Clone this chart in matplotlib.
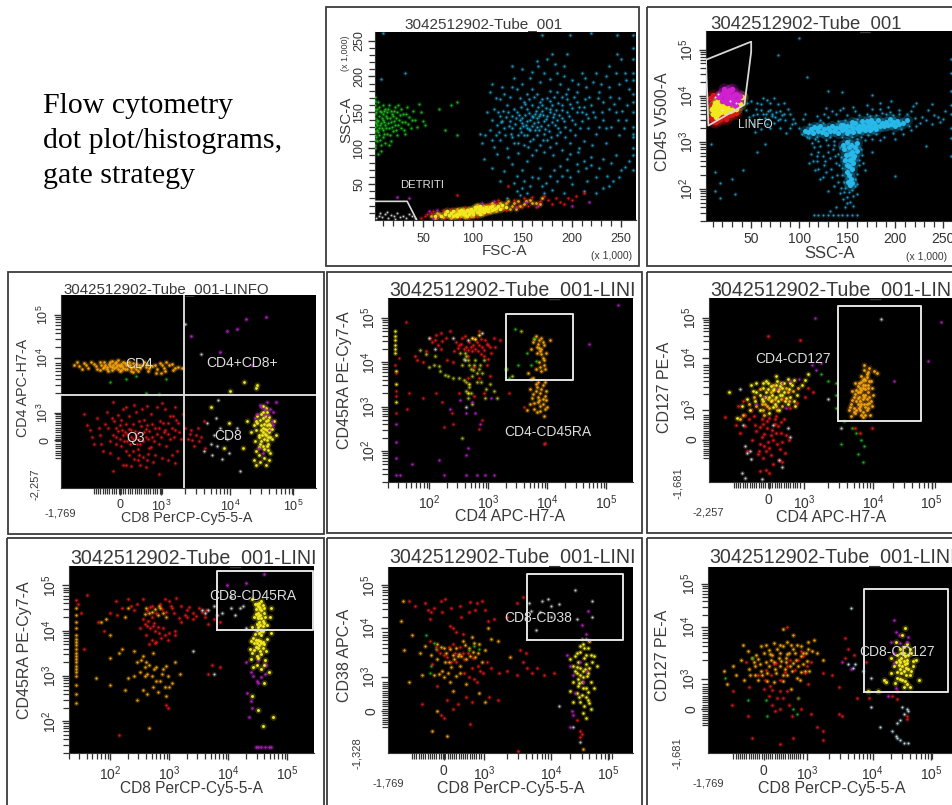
import numpy as np
from matplotlib import pyplot as plt
from matplotlib.patches import Rectangle

W, H = 953, 805
plt.rcParams['font.family'] = ['Liberation Sans', 'DejaVu Sans']
plt.rcParams['mathtext.default'] = 'regular'

RED, ORANGE, YELLOW = '#d81818', '#f0a010', '#f2e81e'
MAG, GREEN, GREY = '#b020c0', '#20b020', '#c8c8c8'
BLUE, CYAN, OLIVE = '#2398c4', '#28b8ea', '#a8b020'

# --- FSC-A / SSC-A, values x 1,000
a_blue = [(163,148),(158,140),(170,152),(150,135),(175,145),(145,150),(165,130),(180,160),(155,155),(168,165),(140,128),(152,118),(172,120),(185,140),(195,150),(205,165),(212,158),(190,172),(178,180),(160,182),(148,170),(135,160),(128,145),(125,132),(133,118),(142,108),(158,110),(168,105),(185,118),(198,125),(210,138),(222,150),(232,165),(245,150),(255,140),(240,130),(225,120),(215,185),(230,190),(245,205),(250,225),(225,205),(200,195),(185,205),(175,225),(180,232),(150,210),(142,198),(130,185),(118,178),(115,150),(118,125),(110,108),(122,102),(135,100),(198,108),
          (160,145),(165,142),(155,138),(168,148),(172,138),(150,142),(148,128),(158,125),(162,135),(176,132),(182,148),(186,128),(192,138),(178,155),(170,160),(160,160),(152,165),(144,142),(138,138),(136,150),(142,155),(130,138),(132,128),(146,118),(155,128),(165,118),(175,112),(190,160),(200,140),(205,150),(215,148),(208,128),(195,168),(185,178),(175,170),(165,175),(155,175),(145,182),(138,172),(128,168),(122,155),(120,140),(127,122),(140,115),(152,105),(178,102),(190,98),(212,110),(232,140),(238,155),(248,170),(256,160),(218,172),(228,178),(205,178),(196,182),(168,192),(158,198),(172,205),(192,215),(210,205),(238,185),(258,182),(248,118),(262,130),(235,108),
          (142,52),(150,45),(160,60),(170,48),(178,62),(185,55),(195,70),(205,78),(215,72),(225,60),(232,85),(242,55),(250,70),(258,82),(145,40),(135,30),(128,55),(120,72),(112,85),(125,92),(140,78),(155,82),(168,72),(180,42),(200,50),(212,40),(225,38),(238,48),(160,90),(150,70),(188,75),(198,92),(220,88),(245,90),(262,120),(262,150),(262,175),(262,205),(262,240),(262,100),(262,90),(262,70),(262,258),(10,260),(198,258),(220,260),(246,258),(170,258),(32,205),(8,197)]
a_blue2 = [(153,146),(157,149),(161,143),(164,152),(167,145),(171,147),(174,141),(178,150),(181,143),(184,153),(148,139),(151,131),(154,133),(157,127),(160,131),(163,125),(166,137),(169,131),(173,127),(177,124),(180,136),(183,132),(187,146),(190,142),(193,130),(197,145),(200,156),(203,134),(147,147),(143,134),(140,145),(137,131),(134,143),(131,152),(129,136),(126,150),(149,157),(153,161),(157,168),(162,171),(166,157),(170,168),(174,156),(178,166),(182,172),(186,163),(190,153),(194,176),(198,162),(202,172),(207,158),(210,150),(214,168),(217,142),(220,160),(224,143),(227,170),(231,150),(235,128),(239,172),(243,162),(247,140),(251,152),(253,128),(149,122),(155,118),(161,113),(167,126),(171,112),(179,116),(184,108),(188,122),(193,116),(203,118),(207,100),(217,128),(221,104),(228,130),(146,108),(139,120),(128,112),(124,118),(120,112),(113,118),(108,120),(156,102),(164,98),(172,95),(181,90),(146,93),(136,88),(195,85),(206,95),(150,190),(160,206),(166,214),(178,196),(188,190),(206,190),(214,198),(222,192),(235,200),(248,190),(254,205),(192,200),(183,218),(140,185),(132,175),(124,170),(120,190),(140,215),(165,222),(195,232),(246,232),(238,214),(255,195),(262,115),(262,165),(262,195),(262,225),(145,62),(152,55),(158,48),(166,58),(174,52),(182,70),(190,62),(198,60),(206,68),(212,82),(220,76),(228,72),(236,62),(240,80),(248,60),(254,74),(132,68),(148,35),(155,38),(172,38),(192,38),(216,55),(232,45)]
a_green = [(2,100),(2,105),(2,112),(2,118),(2,124),(2,130),(2,136),(2,142),(2,148),(2,154),(2,160),(2,166),(2,172),(4,110),(4,125),(4,140),(4,155),(4,132),(6,118),(6,128),(6,145),(6,158),(8,105),(8,135),(8,150),(10,115),(10,125),(10,140),(10,148),(10,160),(12,132),(12,155),(14,120),(14,142),(14,150),(16,128),(16,160),(18,110),(18,136),(18,152),(20,124),(20,145),(22,133),(22,158),(24,118),(24,150),(26,140),(28,128),(28,155),(30,148),(32,120),(32,136),(34,158),(36,144),(38,128),(40,152),(42,140),(46,162),(48,150),(50,138),(52,132),(66,155),(78,160),(84,165),(72,125),(84,118),
           (3,115),(3,135),(3,150),(5,122),(5,138),(5,165),(7,112),(7,132),(7,152),(9,142),(9,128),(11,120),(11,136),(11,152),(13,145),(13,128),(15,135),(15,155),(17,142),(17,118),(19,130),(19,148),(21,138),(21,152),(23,126),(23,142),(25,133),(25,160),(27,146),(29,136),(31,126),(33,148),(35,134),(39,140),(44,130),(12,108),(16,104),(5,92),(8,96)]
a_grey = [(3,3),(6,6),(9,4),(12,8),(15,3),(18,7),(21,5),(24,10),(27,4),(30,6),(33,3),(36,8),(39,5),(42,3),(7,10),(14,11),(22,2)]
a_yellow = [(72,8),(78,10),(82,7),(86,12),(90,9),(94,14),(98,11),(102,15),(106,12),(110,17),(114,14),(118,18),(122,16),(84,9),(88,14),(92,11),(96,8),(100,13),(104,18),(108,14),(112,11),(116,16),(120,20),(126,19),(130,21),(68,6),(74,13),(62,5),(80,5),(94,6),(108,20),(134,18),
            (76,7),(80,12),(84,6),(88,10),(92,7),(96,12),(100,9),(104,11),(108,9),(112,15),(116,12),(120,14),(124,17),(128,15),(98,15),(102,18),(106,16),(110,13),(114,18),(90,13),(86,8)]
a_orange = [(58,6),(64,10),(70,4),(76,6),(82,13),(88,6),(96,15),(100,6),(106,8),(112,20),(118,11),(124,13),(128,24),(134,23),(140,20),(146,26),(152,22),(158,28),(164,24),(170,30),(90,16),(104,21),(120,23),(138,16),
            (66,8),(72,11),(78,3),(84,15),(92,4),(98,6),(110,8),(116,20),(122,21),(130,17),(136,26),(142,23),(148,20),(154,27),(160,24),(168,22),(144,15),(62,3)]
a_red = [(48,3),(54,8),(60,12),(66,9),(72,3),(86,3),(92,18),(104,4),(116,22),(130,16),(142,28),(150,18),(156,20),(160,32),(168,27),(172,34),(180,22),(188,25),(196,30),(204,34),(212,38),(126,28),(84,35),(136,48),
         (52,5),(58,10),(64,4),(70,14),(78,15),(96,3),(114,9),(124,24),(134,14),(146,20),(152,30),(164,18),(176,28),(184,30),(192,22),(200,28)]
a_mag = [(56,12),(60,3),(64,14),(110,24),(122,26),(144,18),(154,25),(166,20),(200,20),(218,25),(24,32),(36,30)]

# --- SSC-A / CD45 V500-A, y in decades
b_cyan = [(106,3.25),(112,3.28),(118,3.3),(124,3.22),(130,3.3),(136,3.25),(142,3.32),(148,3.28),(154,3.36),(160,3.3),(166,3.38),(172,3.34),(178,3.42),(184,3.36),(190,3.44),(196,3.4),(202,3.46),(208,3.42),(114,3.2),(122,3.34),(128,3.18),(134,3.36),(140,3.2),(146,3.38),(152,3.24),(158,3.42),(164,3.28),(170,3.46),(176,3.3),(182,3.48),(188,3.34),(194,3.5),(200,3.36),(212,3.48),
          (109,3.22),(115,3.32),(120,3.25),(126,3.28),(132,3.24),(138,3.3),(144,3.26),(150,3.34),(156,3.3),(162,3.36),(168,3.32),(174,3.4),(180,3.34),(186,3.42),(192,3.38),(198,3.44),(204,3.4),(150,3.2),(156,3.22),(162,3.24),(168,3.26),(174,3.26),(180,3.28),(143,3.38),(155,3.44),(165,3.46),(175,3.48),
          (150,3.0),(152,2.9),(155,2.8),(157,2.7),(153,2.62),(150,2.5),(155,2.42),(152,2.3),(154,2.2),(156,2.55),(149,2.72),(158,2.9),(160,2.98),(147,2.85),(151,2.15),(153,2.08),(154,2.95),(156,2.65),(152,2.48),(150,2.36),(148,2.62),(155,2.12),(153,2.75),(160,2.82),(146,2.95)]
b_blue = [(100,3.3),(96,3.42),(104,3.5),(108,3.12),(116,3.06),(122,3.48),(130,3.55),(138,3.6),(144,3.12),(150,3.58),(158,3.68),(164,3.12),(170,3.62),(176,3.72),(180,3.18),(186,3.64),(192,3.76),(198,3.2),(204,3.7),(212,3.6),(218,3.78),(222,3.36),(228,3.54),(234,3.7),(240,3.58),(246,3.44),(252,3.68),(216,3.26),(208,3.18),(200,3.08),(188,3.12),(176,3.06),(160,3.5),(126,3.62),(110,3.4),(134,3.68),(146,3.74),(170,3.8),(184,3.84),(196,3.88),(222,3.85),(238,3.82),
          (115,2.9),(120,2.8),(125,2.7),(118,2.6),(126,2.5),(130,2.95),(135,2.85),(140,2.75),(132,2.65),(138,2.55),(128,2.35),(134,2.25),(140,2.15),(144,2.45),(146,2.6),(142,2.9),(122,2.2),(116,2.4),(112,2.75),(110,2.55),(148,2.02),(152,1.92),(156,1.85),(146,1.78),(150,1.7),(160,1.88),(158,2.2),(162,2.5),(165,2.72),(168,2.4),(160,2.1),(136,2.05),(130,1.95),(142,1.9),(138,1.6),(132,1.52),
          (50,3.9),(55,3.72),(60,3.82),(65,3.6),(70,3.7),(75,3.55),(80,3.68),(85,3.48),(90,3.6),(58,3.5),(62,3.62),(68,3.5),(72,3.62),(78,3.48),(82,3.58),(66,3.92),(74,3.95),(84,3.85),(92,3.4),(52,3.4),(48,3.55),(45,3.7),(70,3.3),(60,3.28),(80,3.3),(54,3.22),
          (115,1.44),(120,1.44),(125,1.44),(130,1.44),(135,1.44),(140,1.44),(145,1.44),(150,1.44),(155,1.44),(160,1.44),(258,3.6),(258,3.8),(258,4.1),(258,3.3),(258,3.1),(258,2.7),(258,4.5),(258,4.8),
          (100,5.25),(78,4.88),(108,4.4),(130,4.1),(145,4.08),(176,4.02),(12,2.35),(18,2.12),(30,2.2),(42,2.4),(56,2.78),(64,2.96),(8,2.96),(12,1.95),(18,1.8),(33,1.88),(176,2.78),(200,2.28),(232,2.92),
          (103,3.18),(110,3.1),(118,3.12),(125,3.42),(132,3.12),(140,3.46),(148,3.48),(155,3.12),(162,3.58),(172,3.16),(180,3.58),(190,3.6),(198,3.58),(206,3.28),(214,3.36),(220,3.52),(226,3.42),(232,3.48),(238,3.4),(244,3.54),(250,3.5),(216,3.68),(204,3.6),(194,3.66),(184,3.72),(174,3.56),(156,3.76),(142,3.7),(128,3.74),(118,3.56),(106,3.6),(120,3.02),(128,3.04),(136,3.02),(152,3.04),(160,3.06),(168,3.04),(184,3.04),
          (113,2.98),(118,2.7),(122,2.92),(127,2.6),(130,2.8),(133,2.42),(136,2.95),(137,2.7),(141,2.5),(143,2.68),(145,2.3),(147,2.15),(143,2.02),(139,2.3),(125,2.25),(120,2.42),(114,2.6),(162,2.62),(164,2.85),(166,2.55),(158,2.05),(155,1.98),(147,1.92),(150,1.82),(153,1.72),(156,1.62),(148,1.6),(160,2.32),
          (52,3.58),(56,3.62),(60,3.7),(64,3.52),(68,3.68),(72,3.56),(76,3.66),(80,3.5),(84,3.62),(88,3.72),(56,3.85),(62,3.95),(70,3.85),(78,3.82),(46,3.85),(94,3.5),(90,3.3),(86,3.2),(66,3.4),(74,3.42)]
b_mag = [(18,4.0),(22,4.08),(26,4.02),(30,3.96),(34,4.04),(20,3.9),(24,3.94),(28,4.12),(32,3.88),(36,3.92),(38,4.0),(25,3.85),(16,3.98),(30,4.15),(22,4.15),(34,3.78),(28,3.84),(20,4.05),(24,4.0),(28,3.98),(32,4.02),(26,4.1)]
b_yellow = [(9,3.72),(12,3.68),(14,3.75),(16,3.62),(18,3.7),(12,3.85),(15,3.9),(10,3.62),(20,3.78),(23,3.66),(17,3.82),(26,3.72),(13,3.55),(30,3.7),(34,3.72),(38,3.82),(40,3.98),(11,3.78),(15,3.7),(19,3.66),(22,3.74),(25,3.78),(28,3.68)]
b_red = [(8,3.52),(10,3.46),(12,3.44),(15,3.52),(18,3.5),(22,3.54),(26,3.58),(30,3.6),(34,3.64),(8,3.8),(7,3.95),(10,4.02),(13,3.48),(20,3.58),(24,3.5),(28,3.64)]
b_grey = [(12,3.98),(16,4.05),(28,3.9),(34,3.84),(20,3.7)]

# --- CD8 PerCP-Cy5-5-A / CD4 APC-H7-A
c_orange = [(1.6,3.92),(1.68,3.88),(1.75,3.96),(1.82,3.85),(1.9,3.94),(1.96,3.82),(2.02,3.9),(2.06,3.98),(2.1,3.86),(2.14,3.93),(2.18,4.0),(2.22,3.84),(2.26,3.92),(2.3,3.78),(2.34,3.88),(2.38,3.96),(2.42,3.82),(2.46,3.9),(2.5,3.76),(2.56,3.94),(2.62,3.84),(2.68,3.98),(2.74,3.78),(2.8,3.88),(2.86,3.74),(2.92,3.96),(2.98,3.84),(3.06,3.9),(3.12,3.8),(3.2,3.86),(2.0,3.8),(2.12,3.78),(2.2,3.92),(2.28,4.02),(2.36,3.84),(2.44,3.98),(2.52,3.86),(2.6,3.9),(2.7,3.86),(2.84,3.92),(2.94,3.74),(3.02,3.98),(1.72,3.82),(1.86,3.98),(2.04,3.84),(2.16,3.88),(2.24,3.86),(2.32,3.94),(2.4,3.9),(2.48,3.84),(3.26,3.84),
            (1.64,3.98),(1.78,3.9),(1.94,3.88),(2.08,3.92),(2.11,3.82),(2.15,3.98),(2.19,3.86),(2.23,3.96),(2.27,3.82),(2.31,3.88),(2.35,3.98),(2.39,3.82),(2.43,3.92),(2.47,3.78),(2.51,3.96),(2.55,3.82),(2.59,3.78),(2.64,3.92),(2.72,3.94),(2.76,3.84),(2.88,3.82),(2.96,3.9),(3.0,3.78),(3.1,3.94),(3.16,3.84),(2.33,3.8),(2.29,3.9),(2.25,3.98),(2.18,3.8),(2.06,3.86),(2.0,3.98)]
c_red = [(1.75,2.85),(1.85,2.5),(1.9,2.2),(1.95,2.75),(2.0,2.4),(2.05,2.05),(2.1,2.9),(2.12,2.55),(2.15,2.25),(2.2,3.1),(2.22,2.7),(2.25,2.35),(2.28,1.9),(2.3,2.6),(2.32,2.15),(2.35,2.95),(2.38,2.45),(2.4,1.75),(2.42,2.25),(2.45,2.8),(2.48,2.5),(2.5,2.05),(2.52,3.05),(2.55,2.35),(2.58,1.85),(2.6,2.7),(2.62,2.2),(2.65,2.95),(2.68,2.45),(2.7,1.7),(2.72,2.6),(2.75,2.1),(2.78,2.85),(2.8,2.35),(2.82,1.8),(2.85,2.55),(2.88,3.0),(2.9,2.2),(2.92,2.7),(2.95,1.9),(2.98,2.45),(3.0,2.95),(3.02,2.15),(3.05,2.65),(3.08,2.3),(3.1,1.95),(3.12,2.8),(3.15,2.5),(3.18,2.05),(3.2,2.65),(3.25,2.3),(3.28,2.85),(3.35,2.3),(3.4,2.5),(3.45,2.15),(3.5,2.55),(3.55,2.35),(3.6,2.7),(3.62,2.1),(2.36,2.38),(2.42,2.42),(2.5,2.3),(2.56,2.4),(2.34,2.5),(2.46,2.2),(2.66,2.25),(2.6,2.45),(2.7,2.35),(2.3,2.3),(2.25,2.55),(2.2,2.4),(2.6,1.95),(2.66,1.92),(2.52,1.88),(2.44,1.95),(2.74,1.98),(2.85,1.95),(2.35,1.75),(2.2,1.6),(2.9,1.55),
         (1.8,2.6),(1.88,2.35),(1.98,2.55),(2.02,2.2),(2.08,2.62),(2.18,2.75),(2.24,2.2),(2.27,2.48),(2.33,2.72),(2.37,2.25),(2.4,2.62),(2.44,2.52),(2.47,2.35),(2.5,2.62),(2.53,2.48),(2.57,2.2),(2.6,2.3),(2.63,2.58),(2.67,2.72),(2.7,2.52),(2.73,2.3),(2.76,2.48),(2.8,2.62),(2.83,2.25),(2.87,2.42),(2.9,2.55),(2.93,2.35),(2.97,2.65),(3.0,2.5),(3.04,2.42),(3.07,2.8),(3.1,2.55),(3.13,2.35),(3.17,2.72),(3.22,2.45),(3.3,2.55),(3.38,2.42),(3.42,2.28),(3.48,2.4),(3.52,2.25),(2.28,2.82),(2.4,3.0),(2.55,2.9),(2.72,3.02),(2.95,3.08),(3.15,3.0),(2.15,2.0),(2.4,2.05),(2.58,2.08),(2.78,2.12),(3.05,1.85),(3.15,1.78),(2.62,1.75),(2.72,1.85),(2.48,1.72)]
c_yellow = [(4.45,2.4),(4.5,2.55),(4.55,2.7),(4.6,2.45),(4.52,2.3),(4.48,2.85),(4.58,2.2),(4.56,2.9),(4.62,2.6),(4.5,2.15),(4.42,2.65),(4.54,2.42),(4.6,2.78),(4.46,2.2),(4.65,2.3),(4.4,2.5),(4.38,2.25),(4.52,2.62),(4.56,2.5),(4.58,2.35),(4.5,2.75),(4.48,2.5),(4.56,2.15),(4.36,1.85),(4.4,1.75),(4.46,1.8),(4.55,1.75),(4.6,1.85),(4.62,2.0),(4.4,2.05),(4.45,1.95),(4.52,1.9),(4.7,2.4),(4.68,2.7),(4.32,2.45),(4.26,2.7),(4.2,2.1),(4.55,2.98),(4.5,3.02),(3.98,2.65),(3.9,2.1),(4.42,3.48),(4.4,3.42),(4.22,3.55),(4.0,3.35),(3.7,3.0),
            (4.47,2.6),(4.51,2.45),(4.53,2.52),(4.55,2.38),(4.57,2.6),(4.59,2.52),(4.49,2.38),(4.46,2.72),(4.54,2.8),(4.58,2.72),(4.44,2.35),(4.5,2.9),(4.62,2.35),(4.6,2.62),(4.42,2.8),(4.64,2.52),(4.36,2.6),(4.4,2.7),(4.56,2.28),(4.48,2.25),(4.52,2.08),(4.44,2.12),(4.58,2.06)]
c_mag = [(4.48,3.0),(4.56,3.1),(4.62,2.95),(4.52,2.82),(4.64,2.7),(4.42,2.85),(4.7,3.1),(4.6,2.5),(4.5,2.0),(4.44,2.1),(4.66,2.9),(4.25,4.9),(4.55,4.95),(3.95,4.65),(4.1,4.7),(4.33,3.92),(3.85,4.2),(3.4,4.55),(4.46,3.05),(4.54,2.95),(4.58,2.82),(4.66,2.6),(4.38,2.75)]
c_grey = [(3.65,2.65),(3.75,2.4),(3.8,2.15),(3.85,2.55),(3.95,2.3),(3.7,2.2),(3.72,1.95),(3.78,2.75),(3.6,2.05),(3.98,2.0),(3.88,1.88),(4.1,2.55),(4.15,1.6),(3.82,3.15),(3.3,4.8),(3.55,4.15)]
c_green = [(2.15,3.55),(2.7,3.3),(2.4,3.6),(2.55,3.68),(3.02,3.6),(2.9,3.28)]

# --- CD4 APC-H7-A / CD45RA PE-Cy7-A
d_mix = [(1.75,4.15),(1.8,4.05),(1.9,4.0),(1.95,4.25),(2.05,4.45),(2.1,4.5),(2.15,4.4),(2.2,4.65),(2.28,4.55),(2.35,4.7),(2.42,4.25),(2.5,4.4),(2.55,4.55),(2.6,4.6),(2.65,4.15),(2.7,4.35),(2.75,4.55),(2.8,4.45),(2.85,4.7),(2.9,4.35),(2.95,4.5),(3.0,4.4),(3.05,4.2),(3.1,4.55),(3.2,4.5),(2.45,4.45),(2.62,4.35),(2.72,4.25),(2.82,4.25),(2.92,4.15),(2.98,3.95),(3.02,3.7),(2.2,4.3),(2.3,4.05),(2.4,4.0),(2.58,4.3),
         (2.68,4.45),(2.74,4.38),(2.78,4.3),(2.84,4.4),(2.88,4.52),(2.93,4.28),(2.97,4.42),(3.03,4.35),(2.66,4.28),(2.54,4.42),(2.48,4.32),(2.22,4.48),(2.12,4.62),(2.02,4.55),(2.88,4.18),(3.0,4.08),(2.76,3.9),(2.85,3.65),(2.92,3.3),(2.75,3.25),(2.66,3.65),(3.12,4.35)]
d_olive = [(1.85,4.28),(1.95,4.18),(2.0,3.9),(2.1,4.15),(2.18,3.8),(2.26,3.72),(2.32,3.7),(2.4,3.65),(2.5,3.65),(2.58,3.6),(2.62,3.35),(2.68,3.45),(2.72,3.7),(2.8,3.55),(2.88,3.55),(2.96,3.4),(3.02,3.5),(2.75,3.95),(2.65,4.05),(2.6,4.2),(2.85,3.85),(2.78,4.05),(2.7,3.85),(2.55,3.95),(2.92,4.05),(2.65,3.2),(3.15,3.2),(2.55,2.3),(3.3,3.85),(3.4,3.7),(3.55,4.7),
           (2.62,4.15),(2.68,3.95),(2.74,3.82),(2.8,3.75),(2.86,3.95),(2.9,3.75),(2.7,3.3),(2.72,3.05),(2.62,3.55),(2.08,3.95),(2.16,3.92),(2.95,3.2),(3.1,3.35),(2.52,4.2),(2.58,4.08)]
d_yellow = [(2.72,4.55),(2.78,4.52),(2.68,3.5),(2.66,3.3),(1.42,4.7),(1.42,4.6),(1.42,4.5),(1.42,4.4),(1.42,4.3),(1.42,4.22),(1.44,3.8),(1.44,3.5),(1.44,3.1),(2.85,4.62)]
d_orange = [(3.8,4.6),(3.85,4.5),(3.75,4.45),(3.9,4.55),(3.95,4.4),(3.82,4.35),(3.88,4.25),(3.92,4.1),(3.86,4.0),(3.94,3.95),(3.8,3.85),(3.9,3.8),(3.98,4.2),(3.72,4.3),(3.68,3.75),(3.76,3.65),(3.84,3.55),(3.92,3.48),(3.8,3.35),(3.88,3.3),(3.96,3.25),(3.74,3.2),(3.7,3.05),(3.84,3.1),(3.92,3.05),(3.98,3.15),(3.78,2.95),(3.88,2.9),(4.0,3.0),(3.66,2.92),(3.94,2.78),(3.8,3.5),(3.86,3.15),(3.9,4.3),(4.04,4.5),(3.7,3.4),(3.82,4.2),
            (3.78,4.52),(3.84,4.42),(3.92,4.45),(3.86,4.32),(3.9,4.18),(3.94,4.05),(3.88,3.9),(3.96,3.85),(3.72,3.62),(3.82,3.45),(3.9,3.4),(3.96,3.55),(3.84,3.22),(3.92,3.18),(3.78,3.08),(3.88,3.02),(3.96,2.95),(3.82,2.88),(3.76,3.28),(3.98,3.35)]
d_red = [(1.42,3.95),(1.44,3.75),(1.44,3.35),(1.44,3.25),(1.44,2.85),(1.48,4.1),(1.6,4.9),(1.66,3.3),(1.9,3.2),(2.12,3.3),(2.5,3.3),(2.4,2.6),(2.25,2.55),(2.38,2.85),(3.6,3.0),(3.96,2.18),(3.94,2.15),(2.22,3.1),(2.85,2.5),(2.9,2.7),(1.62,2.95),(3.35,3.3)]
d_mag = [(2.35,2.95),(2.52,3.15),(2.62,2.85),(2.72,3.1),(2.78,2.85),(2.86,2.6),(3.05,3.2),(1.44,2.6),(1.44,2.2),(1.44,1.85),(2.65,2.07),(2.62,1.9),(5.2,5.3),(4.7,4.42),(1.44,1.45),(1.5,1.45),(2.25,1.45),(2.62,1.45),(2.8,1.45),(2.95,1.45),(3.1,1.45),(2.16,1.8),(1.7,1.7)]
d_green = [(3.45,4.75),(3.3,3.85),(3.35,3.65),(3.5,3.95),(3.65,4.2),(3.78,4.55),(3.8,4.02),(3.72,3.95)]
d_grey = [(2.0,4.55),(2.1,4.3),(2.4,4.55),(2.65,4.5),(2.9,4.65),(2.6,4.05),(2.62,3.0)]

# --- CD4 APC-H7-A / CD127 PE-A
e_orange = [(3.62,2.95),(3.66,3.1),(3.7,3.25),(3.74,3.4),(3.78,3.55),(3.82,3.7),(3.86,3.85),(3.9,3.75),(3.94,3.6),(3.98,3.45),(4.0,3.3),(3.96,3.15),(3.92,3.0),(3.88,2.85),(3.84,2.8),(3.8,2.95),(3.76,3.1),(3.72,2.88),(3.68,3.38),(3.8,3.35),(3.84,3.2),(3.88,3.5),(3.92,3.35),(3.86,3.1),(3.8,3.05),(3.74,2.95),(3.9,3.2),(3.84,3.45),(3.78,3.25),(3.82,3.58),(3.86,3.65),(3.92,3.8),(3.72,3.55),(3.66,2.82),(3.96,3.6),(4.02,3.82),(4.06,3.78),(3.94,3.88),(3.86,3.95),(3.82,3.4),(3.88,3.3),(3.76,3.48),(3.9,2.95),(3.7,3.0),(3.85,2.92),(3.95,2.85),
            (3.64,3.02),(3.68,3.18),(3.72,3.32),(3.76,3.22),(3.8,3.15),(3.84,3.3),(3.88,3.42),(3.92,3.52),(3.94,3.25),(3.9,3.1),(3.86,3.25),(3.82,3.1),(3.78,3.0),(3.74,3.15),(3.7,2.92),(3.84,3.52),(3.88,3.62),(3.9,3.68),(3.84,3.62),(3.8,3.45),(3.76,3.35),(3.94,3.12),(3.98,3.05),(3.82,2.85),(3.88,3.02),(3.92,3.45)]
e_yellow = [(2.3,3.45),(2.38,3.55),(2.45,3.4),(2.52,3.6),(2.6,3.45),(2.68,3.65),(2.75,3.5),(2.82,3.3),(2.4,3.25),(2.48,3.1),(2.56,3.3),(2.64,3.15),(2.72,3.25),(2.8,3.05),(2.3,3.15),(2.2,3.35),(2.12,3.5),(2.05,3.2),(1.98,3.05),(1.9,2.78),(2.1,2.95),(2.25,2.95),(2.4,2.9),(2.55,2.95),(2.35,3.6),(2.5,3.7),(2.42,3.48),(2.58,3.55),(2.7,3.42),(2.9,3.5),(2.95,3.62),(3.0,3.75),(2.5,3.25),(2.62,3.35),(2.35,3.35),(2.28,3.2),(1.78,3.35),
            (2.44,3.3),(2.47,3.42),(2.5,3.5),(2.53,3.38),(2.56,3.48),(2.6,3.28),(2.63,3.55),(2.66,3.22),(2.42,3.15),(2.38,3.42),(2.34,3.25),(2.46,3.02),(2.54,3.15),(2.72,3.55),(2.78,3.15),(2.68,3.08),(2.25,3.28),(2.18,3.15),(2.15,3.38),(2.2,3.55),(2.3,3.55),(2.78,3.62)]
e_orange2 = [(2.2,3.05),(2.3,2.95),(2.36,3.05),(2.44,3.18),(2.52,2.95),(2.6,3.05),(2.68,3.35),(2.76,3.38),(2.84,3.45),(2.16,3.25),(2.08,3.1),(2.26,3.42),(2.46,3.52),(2.55,3.42),(2.38,3.2),(1.95,2.75),(2.0,2.85),(2.34,3.1),(2.42,3.35),(2.48,3.2),(2.58,3.2),(2.66,3.45),(2.28,3.08),(2.32,2.85),(2.4,3.0),(2.5,3.05),(2.7,3.15)]
e_red = [(1.72,2.8),(1.88,2.62),(1.95,2.45),(2.02,2.6),(2.08,2.75),(2.14,2.3),(2.2,2.5),(2.25,2.2),(2.3,2.65),(2.35,2.05),(2.42,2.4),(2.48,2.65),(2.52,2.2),(2.58,2.45),(2.64,2.0),(2.7,2.3),(2.22,1.98),(2.3,1.9),(2.38,2.25),(2.45,1.75),(2.55,1.85),(2.35,1.62),(2.25,1.6),(2.05,2.05),(2.12,2.95),(2.4,2.78),(2.5,2.82),(2.62,2.75),(2.72,3.0),(2.95,3.25),(3.0,3.45),(3.08,3.35),(2.38,4.6),(2.88,4.5),(2.4,1.55),(3.72,2.55),(3.8,2.45),(3.98,2.55),(2.28,2.35),(2.6,1.8),
         (2.18,2.62),(2.26,2.58),(2.32,2.42),(2.36,2.55),(2.4,2.12),(2.44,2.52),(2.46,2.3),(2.5,2.45),(2.54,2.6),(2.56,2.1),(2.6,2.25),(2.66,2.4),(2.16,2.82),(2.28,2.75),(2.36,2.72),(2.48,2.75),(2.58,2.68),(2.24,2.05),(2.32,2.15),(2.42,1.95),(2.02,2.85),(2.0,3.15),(1.92,3.05),(2.62,3.2),(2.82,3.12)]
e_mag = [(2.5,3.42),(2.6,3.55),(2.72,3.6),(2.85,3.65),(2.32,3.25),(3.2,4.0),(3.05,3.95),(3.12,3.85),(4.32,3.6),(4.85,4.05),(5.05,4.9),(3.1,5.0),(2.65,3.0),(2.2,3.1)]
e_grey = [(1.95,3.42),(2.0,2.62),(2.02,2.15),(2.05,2.0),(2.1,2.05),(2.12,1.88),(1.98,1.55),(2.02,1.45),(2.28,1.42),(2.55,1.85),(2.6,1.7),(2.68,2.55),(2.72,2.35),(2.45,2.62),(3.5,2.55),(4.12,4.98),(3.3,3.2)]
e_green = [(3.68,2.55),(3.74,2.45),(3.82,2.3),(3.86,2.15),(3.76,1.98),(3.85,1.8),(3.55,2.72),(3.5,2.2),(3.3,3.6),(3.2,3.75),(3.42,3.55),(3.42,3.3),(3.42,3.0)]

# --- CD8 PerCP-Cy5-5-A / CD45RA PE-Cy7-A
f_yellow = [(4.4,4.7),(4.45,4.6),(4.5,4.55),(4.55,4.65),(4.6,4.5),(4.5,4.4),(4.44,4.3),(4.52,4.2),(4.58,4.1),(4.62,4.3),(4.48,4.02),(4.56,3.9),(4.42,3.85),(4.5,3.8),(4.6,3.7),(4.46,3.65),(4.54,3.55),(4.4,3.5),(4.64,3.55),(4.5,3.4),(4.56,4.45),(4.52,4.62),(4.48,4.15),(4.54,4.35),(4.58,4.22),(4.44,3.72),(4.56,3.72),(4.5,3.62),(4.7,4.3),(4.72,3.95),(4.36,3.6),(4.62,3.35),(4.48,3.25),(4.56,3.15),(4.68,3.1),(4.42,3.2),(4.52,4.52),(4.5,4.28),(4.46,4.48),(4.6,4.4),(4.55,4.0),(4.45,3.92),(4.65,3.82),(4.58,3.62),(4.38,3.38),(4.6,2.85),(4.4,2.55),(4.5,2.25),(4.58,1.9),(4.75,2.1),
            (4.48,4.58),(4.54,4.48),(4.58,4.56),(4.46,4.38),(4.5,4.33),(4.56,4.28),(4.6,4.18),(4.54,4.12),(4.5,4.08),(4.58,4.0),(4.52,3.95),(4.46,3.8),(4.54,3.78),(4.48,3.72),(4.58,3.75),(4.52,3.68),(4.44,3.58),(4.56,3.48),(4.48,3.45),(4.6,3.25),(4.66,4.12),(4.72,4.5),(4.4,4.08),(4.38,3.78)]
f_mag = [(4.3,3.3),(4.38,3.1),(4.42,3.0),(4.5,3.35),(4.62,3.05),(4.56,2.98),(4.5,2.85),(4.32,2.62),(4.38,2.45),(4.35,2.1),(4.48,2.9),(4.64,3.25),(4.5,1.44),(4.56,1.44),(4.62,1.44),(4.68,1.44),(4.46,1.44),(4.72,1.44),(4.6,5.25),(4.3,5.05),(4.4,2.3),(3.98,5.0)]
f_red = [(1.6,4.8),(2.0,4.4),(2.1,4.65),(2.3,4.7),(2.45,4.6),(2.55,4.7),(2.62,4.45),(2.7,4.55),(2.78,4.4),(2.85,4.6),(2.92,4.7),(3.0,4.65),(3.05,4.5),(3.12,4.72),(3.2,4.55),(3.3,4.45),(3.4,4.4),(3.5,4.5),(3.6,4.3),(3.66,4.15),(3.75,4.25),(3.85,4.2),(2.55,4.25),(2.62,4.1),(2.7,4.3),(2.76,4.0),(2.82,3.95),(2.9,4.05),(3.0,3.95),(3.1,4.0),(2.6,3.9),(2.7,3.8),(2.72,4.1),(2.5,4.05),(1.9,4.0),(1.8,4.2),(1.5,4.4),(1.45,4.6),(1.42,4.68),(3.2,4.2),(3.3,4.3),(3.4,4.25),(1.55,3.6),(3.65,3.05),(3.85,3.2),(3.72,3.25),(3.02,4.55),(2.88,4.48),(2.95,2.35),(2.97,2.3),(2.15,1.7),(3.1,3.9),(2.75,3.72),
         (2.58,4.15),(2.64,4.22),(2.68,4.05),(2.74,4.18),(2.8,4.08),(2.86,3.85),(2.66,3.7),(2.78,3.75),(2.94,4.42),(3.08,4.4),(3.16,4.28),(3.26,4.35),(3.34,4.52),(3.46,4.32),(3.55,4.42),(3.62,4.45),(2.4,4.45),(2.35,4.55),(2.2,4.5),(2.12,4.35),(2.68,4.52),(2.98,3.8),(2.92,3.9)]
f_orange = [(1.42,3.0),(1.42,3.15),(1.42,3.3),(1.42,3.45),(1.42,3.6),(1.42,3.75),(1.42,3.9),(1.42,4.05),(1.42,4.2),(1.42,4.35),(1.42,4.5),(1.42,2.8),(1.42,2.6),(1.42,2.4),(1.85,4.2),(1.92,4.25),(2.0,3.9),(2.15,3.5),(2.2,3.6),(2.0,3.4),(2.25,4.3),(2.3,4.5),(2.4,3.55),(2.45,3.3),(2.5,3.1),(2.55,3.45),(2.58,3.2),(2.62,3.05),(2.65,4.4),(2.72,3.5),(2.78,3.2),(2.85,2.9),(2.9,3.15),(2.92,2.75),(2.98,3.0),(3.05,2.85),(3.1,3.3),(3.18,3.05),(2.4,3.0),(2.3,2.95),(2.62,2.6),(2.72,2.75),(2.8,2.65),(2.78,2.9),(2.7,3.0),(2.85,4.5),(2.95,4.3),(2.8,4.35),(2.95,2.55),(1.75,2.95),(2.0,2.8),(2.25,2.7),(2.55,2.7),(2.45,2.48),(2.65,1.85),(3.0,2.75),
            (1.42,3.08),(1.42,3.22),(1.42,3.38),(1.42,3.52),(1.42,3.68),(1.42,3.82),(2.52,3.35),(2.6,3.3),(2.66,3.25),(2.74,3.15),(2.88,3.05),(2.94,3.22),(2.58,3.0),(2.7,4.42),(2.76,4.48),(2.58,4.38),(2.6,4.5),(2.82,4.55),(2.9,4.4)]
f_grey = [(3.4,3.55),(3.75,4.55),(3.9,4.4),(4.05,4.75),(4.12,4.35),(4.2,4.5),(3.55,4.45),(3.65,4.45),(3.75,3.05),(4.25,4.55),(4.05,4.5),(3.8,4.35),(4.3,4.05),(3.6,4.4)]

# --- CD8 PerCP-Cy5-5-A / CD38 APC-A
g_red = [(1.75,4.65),(1.85,4.55),(2.0,4.6),(2.05,4.45),(2.15,4.5),(2.25,4.65),(2.32,4.7),(2.42,4.5),(2.55,4.55),(2.58,4.3),(2.7,4.4),(2.82,4.6),(2.9,4.65),(2.95,4.45),(2.1,4.4),(2.4,4.1),(2.45,4.05),(3.0,4.2),(3.1,4.25),(3.3,4.3),(3.45,4.6),(3.55,4.75),(2.08,3.75),(2.12,3.25),(2.2,3.55),(2.35,3.4),(2.45,3.7),(2.5,3.3),(2.6,3.5),(2.7,2.95),(2.75,3.15),(2.82,2.85),(2.88,3.1),(2.98,3.3),(3.05,3.15),(3.18,3.05),(3.3,3.1),(3.45,3.0),(3.55,3.3),(3.62,3.15),(3.7,3.05),(3.78,3.15),(3.88,3.0),(4.05,3.05),(2.2,2.75),(2.35,2.45),(2.45,2.25),(2.52,2.35),(2.65,2.5),(2.75,2.4),(3.02,2.5),(3.15,2.45),(1.95,2.35),(2.25,2.1),(2.3,2.05),(2.72,1.9),(3.48,1.3),(4.46,1.75),(4.48,1.68),(4.45,1.62),(4.4,2.0),(3.5,3.55),(3.6,3.5),
         (2.24,3.5),(2.3,3.45),(2.38,3.62),(2.42,3.3),(2.48,3.5),(2.56,3.62),(2.62,3.35),(2.68,3.5),(2.76,3.38),(2.84,3.2),(2.92,3.05),(2.18,3.62),(2.08,4.25),(2.28,4.4),(2.8,4.45),(2.72,4.62),(2.5,3.95),(2.6,3.92),(2.62,3.05),(2.78,2.92)]
g_orange = [(1.62,4.2),(1.68,3.55),(1.8,3.9),(1.92,3.5),(2.0,3.65),(2.1,3.45),(2.2,3.35),(2.28,3.1),(2.3,3.6),(2.38,3.3),(2.44,3.45),(2.5,3.6),(2.55,3.2),(2.6,3.75),(2.65,3.35),(2.7,3.6),(2.75,3.85),(2.8,3.4),(2.85,3.7),(2.9,3.3),(2.95,3.55),(1.95,3.0),(2.15,3.0),(2.3,2.95),(2.4,2.85),(2.55,3.05),(2.45,2.65),(2.65,2.8),(2.85,2.6),(2.95,2.4),(2.2,2.2),(2.12,1.75),(2.35,1.65),(3.05,3.8),(3.15,3.75),(3.35,3.4),(1.65,4.65),(1.75,2.85),(4.5,1.35),(3.0,4.05),
            (2.2,3.7),(2.26,3.62),(2.34,3.5),(2.4,3.58),(2.46,3.35),(2.54,3.48),(2.58,3.42),(2.64,3.68),(2.72,3.42),(2.78,3.72),(2.84,3.5),(2.32,3.28),(2.42,3.18),(2.52,3.42),(2.22,3.02),(2.36,3.05),(2.5,2.98),(2.76,3.52)]
g_yellow = [(4.3,3.35),(4.35,3.2),(4.4,3.05),(4.45,3.15),(4.5,2.95),(4.55,3.25),(4.6,3.15),(4.65,3.3),(4.4,3.5),(4.45,3.65),(4.5,3.7),(4.55,3.45),(4.58,3.6),(4.35,2.85),(4.42,2.75),(4.48,2.85),(4.55,2.7),(4.62,2.85),(4.4,2.6),(4.46,2.4),(4.52,2.3),(4.58,2.45),(4.62,2.25),(4.35,2.4),(4.48,2.55),(4.56,2.98),(4.42,3.28),(4.52,3.38),(4.6,3.75),(4.3,2.65),(4.72,3.2),(4.5,2.15),(4.55,2.05),(4.42,2.9),(4.5,3.08),(4.58,2.62),(4.68,2.7),
            (4.38,3.42),(4.46,3.52),(4.52,3.6),(4.62,3.45),(4.68,3.42),(4.38,3.1),(4.46,3.0),(4.53,3.14),(4.44,2.82),(4.5,2.72),(4.44,2.5),(4.54,2.52),(4.6,2.38),(4.4,3.18),(4.58,3.05)]
g_mag = [(4.25,3.45),(4.3,3.2),(4.35,3.0),(4.45,3.3),(4.5,2.85),(4.56,3.1),(4.38,2.6),(4.32,2.2),(4.35,2.1),(4.6,3.78),(4.48,4.12),(4.58,4.42),(4.3,1.85),(4.55,3.92)]
g_grey = [(3.65,4.6),(3.85,4.65),(3.95,4.7),(4.0,4.55),(4.12,4.58),(4.38,4.9),(4.65,4.65),(3.68,4.42),(3.82,4.4),(4.0,4.3),(3.75,4.0),(4.4,4.25),(4.65,4.3),(4.48,3.8),(4.55,3.8),(4.35,1.85),(4.45,1.5),(4.12,2.3)]
g_green = [(2.02,3.9),(2.15,3.72),(2.18,3.58),(2.7,3.55),(2.78,3.65),(2.85,3.58),(2.1,3.2),(2.08,3.05)]

# --- CD8 PerCP-Cy5-5-A / CD127 PE-A
h_orange = [(1.6,3.05),(1.65,2.75),(1.75,3.15),(1.8,2.95),(1.88,3.3),(1.92,2.85),(2.0,3.1),(2.05,3.35),(2.1,2.95),(2.12,3.4),(2.18,3.2),(2.25,3.45),(2.3,3.0),(2.36,3.3),(2.42,3.1),(2.48,3.35),(2.55,2.95),(2.6,3.25),(2.65,3.45),(2.7,3.05),(2.76,3.3),(2.82,2.85),(2.88,3.2),(2.92,3.45),(2.98,3.05),(3.02,3.5),(1.9,3.62),(1.98,3.5),(2.2,3.6),(2.32,3.52),(2.45,3.55),(2.55,3.6),(2.62,3.7),(2.72,3.55),(2.85,3.6),(2.95,3.7),(3.1,3.45),(3.2,3.3),(2.22,2.95),(2.4,2.8),(2.5,3.15),(2.68,2.65),(2.78,2.9),(2.72,3.85),(2.55,3.98),(3.05,3.75),(2.6,3.35),(2.38,3.4),(2.1,3.15),(2.32,3.15),(2.02,2.95),(2.5,3.45),(2.75,3.45),
            (2.08,3.25),(2.15,3.32),(2.2,3.05),(2.28,3.25),(2.34,3.42),(2.4,3.25),(2.44,3.0),(2.52,3.28),(2.58,3.1),(2.62,3.42),(2.66,3.15),(2.72,3.22),(2.8,3.15),(2.84,3.38),(2.9,3.05),(2.94,3.28),(2.28,3.62),(2.4,3.68),(2.5,3.62),(2.68,3.62),(2.78,3.62),(2.88,3.45),(2.95,3.55),(2.15,2.85),(2.3,2.82),(2.55,2.82),(2.62,2.95),(2.85,3.02)]
h_red = [(1.75,2.6),(1.72,2.3),(1.95,3.25),(2.0,2.7),(1.98,2.05),(2.15,2.95),(2.25,2.65),(2.35,2.72),(2.38,2.3),(2.42,2.15),(2.45,2.45),(2.5,2.2),(2.55,2.45),(2.62,2.6),(2.65,2.3),(2.7,2.05),(2.8,2.45),(2.85,2.2),(2.9,3.0),(2.95,2.75),(2.62,4.03),(3.0,2.1),(3.2,3.0),(3.35,2.95),(3.45,2.7),(3.46,2.1),(3.5,2.05),(3.55,3.35),(3.6,3.55),(3.7,3.4),(3.75,2.45),(3.95,2.45),(3.9,3.25),(2.05,1.55),(2.5,1.42),(2.72,1.55),(3.1,1.8),(3.2,1.72),(3.2,1.52),(3.55,3.78),(4.32,2.5),(4.4,2.42),(4.55,2.05),(4.56,1.98),(4.4,2.6),(2.4,3.2),(2.62,3.15),(2.85,3.5),(3.0,3.25),
         (2.28,3.08),(2.36,2.95),(2.44,3.22),(2.5,2.85),(2.58,3.02),(2.66,3.3),(2.74,3.08),(2.8,3.3),(2.88,3.38),(2.94,3.15),(2.26,2.85),(2.38,2.62),(2.5,2.6),(2.32,2.5)]
h_yellow = [(4.3,3.0),(4.35,3.15),(4.4,2.9),(4.45,3.25),(4.5,3.05),(4.55,3.3),(4.6,2.95),(4.65,3.15),(4.4,3.4),(4.45,3.55),(4.5,3.45),(4.55,3.65),(4.48,2.85),(4.56,2.75),(4.62,3.45),(4.38,3.7),(4.42,3.3),(4.52,3.2),(4.58,3.1),(4.46,3.0),(4.5,2.7),(4.36,2.78),(4.7,3.3),(4.75,2.85),(4.52,4.0),(4.48,3.85),(4.6,2.7),(4.44,3.1),(4.54,2.95),(4.08,2.6),(3.92,2.6),(4.18,2.85),(4.22,2.8),(4.6,3.55),(4.3,3.35),
            (4.42,3.18),(4.46,3.35),(4.5,3.28),(4.54,3.12),(4.58,3.4),(4.4,3.02),(4.48,3.15),(4.52,3.38),(4.56,3.22),(4.62,3.05),(4.44,2.88),(4.52,2.82),(4.46,3.45),(4.5,3.58),(4.38,3.25),(4.66,3.28)]
h_mag = [(4.34,4.18),(4.38,3.92),(4.42,3.85),(4.35,3.45),(4.35,3.22),(4.58,3.8),(4.45,3.68),(4.38,2.68),(4.3,3.7),(4.55,3.7),(4.25,2.5),(3.5,3.25),(3.65,3.1)]
h_grey = [(3.65,4.45),(3.6,3.2),(3.72,3.2),(3.68,3.12),(3.85,3.05),(3.98,2.9),(3.98,2.25),(4.12,1.8),(4.32,1.72),(4.4,1.9),(4.45,1.95),(4.5,2.1),(4.55,2.2),(4.58,2.15),(4.48,2.25),(4.4,1.55),(4.45,1.52),(4.5,1.45),(4.58,1.45),(4.38,1.6)]
h_green = [(1.98,2.4),(2.3,2.05),(2.28,2.4),(2.78,2.1),(2.72,2.2),(2.8,2.45),(2.05,3.35),(1.62,2.9)]

panel_a_layers = [(a_blue + a_blue2, BLUE, 2.2), (a_green, GREEN, 2.4), (a_grey, GREY, 1.5), (a_red, RED, 2.5), (a_orange, ORANGE, 4), (a_yellow, YELLOW, 7), (a_mag, MAG, 2.5)]
panel_b_layers = [(b_blue, BLUE, 2), (b_cyan, CYAN, 13), (b_red, RED, 16), (b_yellow, YELLOW, 16), (b_mag, '#d020d0', 16), (b_grey, '#e8e8e8', 2)]
panel_c_layers = [(c_red, RED, 2.5), (c_orange, ORANGE, 3.5), (c_yellow, YELLOW, 4), (c_mag, MAG, 3), (c_grey, GREY, 2.2), (c_green, GREEN, 2.2)]
panel_d_layers = [(d_mix, RED, 2.8), (d_olive, OLIVE, 2.8), (d_yellow, YELLOW, 2.8), (d_orange, ORANGE, 3.2), (d_red, RED, 2.4), (d_mag, MAG, 2.4), (d_green, GREEN, 2.4), (d_grey, GREY, 2.4)]
panel_e_layers = [(e_red, RED, 3.2), (e_orange2, ORANGE, 4), (e_yellow, YELLOW, 3.8), (e_orange, ORANGE, 4), (e_mag, MAG, 2.4), (e_grey, GREY, 2.4), (e_green, GREEN, 2.4)]
panel_f_layers = [(f_red, RED, 2.8), (f_orange, ORANGE, 2.8), (f_mag, MAG, 3), (f_yellow, YELLOW, 4.5), (f_grey, GREY, 2.4)]
panel_g_layers = [(g_red, RED, 2.8), (g_orange, ORANGE, 2.8), (g_yellow, YELLOW, 3.2), (g_mag, MAG, 2.8), (g_grey, GREY, 2.2), (g_green, GREEN, 2.2)]
panel_h_layers = [(h_red, RED, 2.8), (h_orange, ORANGE, 3), (h_yellow, YELLOW, 4.5), (h_mag, MAG, 2.8), (h_grey, '#b8d8e0', 2.2), (h_green, GREEN, 2.2)]

TITLE_ID = '3042512902-Tube_001'
TITLE_LINFO = '3042512902-Tube_001-LINFO'
TITLE_LINI = '3042512902-Tube_001-LINI'
DEC_LABELS = ['10$^{2}$', '10$^{3}$', '10$^{4}$', '10$^{5}$']
BI_LABELS = ['0', '10$^{3}$', '10$^{4}$', '10$^{5}$']
LIN_LABELS = ['50', '100', '150', '200', '250']
LIN_TICKS = [50, 100, 150, 200, 250]

fig = plt.figure(figsize=(W / 100, H / 100), dpi=100, facecolor='white')


def log_minor(first, last):
    out = []
    for d in range(first, last + 1):
        out.extend(d + np.log10(np.arange(2, 10)))
    return out


def draw_panel(box, xlim, ylim, xt, xl, yt, yl, xm, ym, layers, size=9, xpad=3):
    left, top, right, bottom = box
    ax = fig.add_axes([left / W, 1 - bottom / H, (right - left) / W, (bottom - top) / H])
    ax.set_facecolor('black')
    ax.set_xlim(xlim)
    ax.set_ylim(ylim)
    for pts, col, s in layers:
        arr = np.array(pts)
        # soft halo first, the source picture is a blurred scan
        ax.scatter(arr[:, 0], arr[:, 1], s=s * 5, c=col, marker='o', linewidths=0, alpha=0.22, zorder=2)
        ax.scatter(arr[:, 0], arr[:, 1], s=s, c=col, marker='o', linewidths=0, zorder=3)
    ax.set_xticks(xt)
    ax.set_xticklabels(xl, fontsize=size, color='#333333')
    ax.set_yticks(yt)
    ax.set_yticklabels(yl, fontsize=size, color='#333333', rotation=90, va='center')
    ax.set_xticks(xm, minor=True)
    ax.set_yticks(ym, minor=True)
    ax.tick_params(which='both', length=5, width=1, color='#333333')
    ax.tick_params(which='minor', length=4, width=0.9)
    ax.tick_params(axis='x', which='major', pad=xpad)
    ax.tick_params(axis='y', which='major', pad=2)
    ax.spines['top'].set_visible(False)
    ax.spines['right'].set_visible(False)
    ax.spines['left'].set_color('#333333')
    ax.spines['bottom'].set_color('#333333')
    return ax


def gate_box(ax, x0, x1, y0, y1):
    ax.plot([x0, x1, x1, x0, x0], [y0, y0, y1, y1, y0], color='#e4e4e4', lw=1.4, zorder=4)


lin_minor = list(range(10, 260, 10))

ax_a = draw_panel((375, 32, 636, 220), (1.5, 265), (0, 262), LIN_TICKS, LIN_LABELS, LIN_TICKS, LIN_LABELS,
                  lin_minor, lin_minor, panel_a_layers, size=9, xpad=4)
ax_a.plot([1.5, 34, 43.6], [26, 26, 0], color='#d8d8d8', lw=1.2, zorder=4)

ax_b = draw_panel((706, 31, 953, 221), (3, 260), (1.41, 5.4), LIN_TICKS, LIN_LABELS, [2, 3, 4, 5], DEC_LABELS,
                  lin_minor, log_minor(1, 4), panel_b_layers, size=10, xpad=3)
ax_b.plot([3, 50, 50, 43, 5.5, 4, 3], [4.78, 5.17, 4.95, 3.81, 3.36, 4.16, 4.78], color='#d8d8d8', lw=1.3, zorder=4)

ax_c = draw_panel((61, 295, 316, 488), (1.40, 5.32), (1.24, 5.43), [2.31, 2.94, 4, 4.97], BI_LABELS,
                  [2.28, 2.87, 4.07, 5], BI_LABELS, list(np.arange(1.9, 2.95, 0.035)) + log_minor(3, 4),
                  list(np.arange(1.9, 2.85, 0.05)) + log_minor(3, 4), panel_c_layers)
ax_c.axvline(3.29, color='#d8d8d8', lw=1.4, zorder=4)
ax_c.axhline(3.26, color='#d8d8d8', lw=1.4, zorder=4)

ax_d = draw_panel((388, 298, 633, 482), (1.41, 5.45), (1.43, 5.45), [2, 3, 4, 5], DEC_LABELS, [2, 3, 4, 5], DEC_LABELS,
                  log_minor(1, 4), log_minor(1, 4), panel_d_layers, size=10)
gate_box(ax_d, 3.30, 4.44, 3.59, 5.09)

ax_e = draw_panel((709, 298, 953, 482), (1.47, 5.23), (1.36, 5.44), [2.39, 2.94, 4, 4.9], BI_LABELS,
                  [2.3, 2.96, 4.11, 5], BI_LABELS, list(np.arange(1.85, 2.9, 0.035)) + log_minor(3, 4),
                  list(np.arange(1.9, 2.9, 0.05)) + log_minor(3, 4), panel_e_layers, size=10)
gate_box(ax_e, 3.46, 4.73, 2.72, 5.26)

ax_f = draw_panel((69, 566, 314, 753), (1.41, 5.45), (1.43, 5.43), [2, 3, 4, 5], DEC_LABELS, [2, 3, 4, 5], DEC_LABELS,
                  log_minor(1, 4), log_minor(1, 4), panel_f_layers, size=10)
gate_box(ax_f, 3.80, 5.43, 4.02, 5.32)

ax_g = draw_panel((388, 567, 633, 753), (1.42, 5.29), (1.26, 5.41), [2.3, 2.94, 4, 4.9], BI_LABELS,
                  [2.2, 2.96, 4.06, 5], BI_LABELS, list(np.arange(1.8, 2.9, 0.035)) + log_minor(3, 4),
                  list(np.arange(1.85, 2.9, 0.05)) + log_minor(3, 4), panel_g_layers, size=10)
gate_box(ax_g, 3.61, 5.13, 3.79, 5.26)

ax_h = draw_panel((708, 567, 953, 753), (1.34, 5.30), (1.22, 5.37), [2.24, 2.94, 4, 4.95], BI_LABELS,
                  [2.21, 2.87, 4.04, 5], BI_LABELS, list(np.arange(1.75, 2.9, 0.035)) + log_minor(3, 4),
                  list(np.arange(1.85, 2.8, 0.05)) + log_minor(3, 4), panel_h_layers, size=10)
gate_box(ax_h, 3.86, 5.22, 2.58, 4.87)

# overlay in picture pixels for frames, titles and labels
over = fig.add_axes([0, 0, 1, 1], zorder=10)
over.set_xlim(0, W)
over.set_ylim(H, 0)
over.axis('off')
over.patch.set_alpha(0)

frames = [(326, 7, 639, 266), (647, 7, 960, 266), (8, 272, 324, 534), (327, 272, 642, 533),
          (647, 272, 960, 533), (7, 538, 324, 812), (327, 538, 642, 812), (647, 538, 960, 812)]
for x0, y0, x1, y1 in frames:
    over.add_patch(Rectangle((x0, y0), x1 - x0, y1 - y0, fill=False, ec='#3c3c3c', lw=1.3))

ink = '#3a3a3a'
titles = [(484, 24, TITLE_ID, 11, 'center'), (710, 24, TITLE_ID, 13.3, 'left'), (166, 289, TITLE_LINFO, 10.8, 'center'),
          (389, 290, TITLE_LINI, 14.1, 'left'), (710, 290, TITLE_LINI, 14.1, 'left'), (70, 558, TITLE_LINI, 14.1, 'left'),
          (389, 557, TITLE_LINI, 14.1, 'left'), (709, 557, TITLE_LINI, 14.1, 'left')]
for x, y, s, fs, ha in titles:
    over.text(x, y, s, fontsize=fs, color=ink, ha=ha, va='center')

xlabels = [(505, 251, 'FSC-A', 11), (830, 253, 'SSC-A', 12), (187, 518, 'CD8 PerCP-Cy5-5-A', 10.3), (510, 516, 'CD4 APC-H7-A', 11.5),
           (831, 517, 'CD4 APC-H7-A', 11.5), (192, 788, 'CD8 PerCP-Cy5-5-A', 11.2), (511, 788, 'CD8 PerCP-Cy5-5-A', 11.5), (832, 788, 'CD8 PerCP-Cy5-5-A', 11.5)]
for x, y, s, fs in xlabels:
    over.text(x, y, s, fontsize=fs, color=ink, ha='center', va='center')

ylabels = [(346, 120, 'SSC-A', 11), (663, 122, 'CD45 V500-A', 11.5), (23, 388, 'CD4 APC-H7-A', 10.3), (345, 380, 'CD45RA PE-Cy7-A', 11.5),
           (665, 387, 'CD127 PE-A', 11.5), (25, 650, 'CD45RA PE-Cy7-A', 11.5), (345, 655, 'CD38 APC-A', 11.5), (663, 655, 'CD127 PE-A', 11.5)]
for x, y, s, fs in ylabels:
    over.text(x, y, s, fontsize=fs, color=ink, ha='center', va='center', rotation=90)

over.text(612, 256, '(x 1,000)', fontsize=7.5, color=ink, ha='center', va='center')
over.text(927, 257, '(x 1,000)', fontsize=7.5, color=ink, ha='center', va='center')
over.text(346, 53, '(x 1,000)', fontsize=6.5, color=ink, ha='center', va='center', rotation=90)

low_x = [(60, 513, '-1,769'), (708, 512, '-2,257'), (388, 783, '-1,769'), (708, 783, '-1,769')]
for x, y, s in low_x:
    over.text(x, y, s, fontsize=8, color=ink, ha='center', va='center')
low_y = [(35, 484, '-2,257'), (678, 483, '-1,681'), (357, 753, '-1,328'), (677, 753, '-1,681')]
for x, y, s in low_y:
    over.text(x, y, s, fontsize=8, color=ink, ha='center', va='center', rotation=90)

gate_names = [(422, 185, 'DETRITI', 8.2), (755, 125, 'LINFO', 8.5), (139, 364, 'CD4', 10), (242, 363, 'CD4+CD8+', 10), (136, 438, 'Q3', 10),
              (228, 436, 'CD8', 10), (548, 432, 'CD4-CD45RA', 10), (793, 359, 'CD4-CD127', 10), (253, 596, 'CD8-CD45RA', 10),
              (538, 618, 'CD8-CD38', 10), (897, 652, 'CD8-CD127', 10)]
for x, y, s, fs in gate_names:
    over.text(x, y, s, fontsize=fs, color='#dcdcdc', ha='center', va='center')

for y, s in [(106, 'Flow cytometry'), (141, 'dot plot/histograms,'), (176, 'gate strategy')]:
    over.text(43, y, s, fontsize=21.5, family='Liberation Serif', color='black', ha='left', va='center')

fig.savefig('out.png', dpi=100)
